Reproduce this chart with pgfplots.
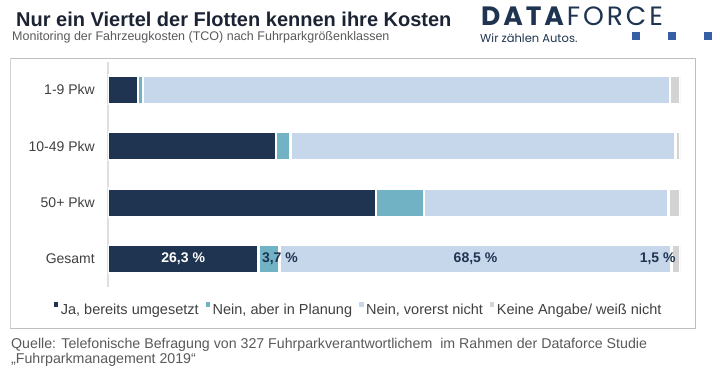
\documentclass[border=0pt]{standalone}
\usepackage{pgfplots}
\pgfplotsset{compat=1.18}
\usepackage{fontspec}
\setmainfont{Liberation Sans}
\newfontfamily\logofont{Poppins}
\definecolor{c1}{RGB}{31,52,81}
\definecolor{c2}{RGB}{114,178,197}
\definecolor{c3}{RGB}{199,215,235}
\definecolor{c4}{RGB}{211,211,211}
\definecolor{titlecol}{RGB}{28,36,52}
\definecolor{txtgray}{RGB}{64,64,64}
\definecolor{subgray}{RGB}{90,90,90}
\definecolor{sqblue}{RGB}{55,95,165}
\begin{document}
\begin{tikzpicture}[x=1pt,y=1pt]
\path[fill=white] (0,0) rectangle (720,383);
% frame
\draw[gray!50, line width=0.9pt] (10,55) rectangle (695,325);
\draw[gray!35, line width=1.6pt] (10.5,55) -- (10.5,325);
% title
\node[anchor=base west, inner sep=0, text=titlecol, font=\fontsize{20}{24}\selectfont\bfseries] at (16,356) {Nur ein Viertel der Flotten kennen ihre Kosten};
\node[anchor=base west, inner sep=0, text=subgray, font=\fontsize{12.5}{15}\selectfont] at (12,342) {Monitoring der Fahrzeugkosten (TCO) nach Fuhrparkgrößenklassen};
% logo
\node[anchor=base west, inner sep=0, text=c1, font=\fontsize{26.5}{30}\logofont\addfontfeature{LetterSpace=11}] at (481,357) {\textbf{DATA}FORCE};
\node[anchor=base west, inner sep=0, text=c1, font=\fontsize{11.5}{14}\logofont] at (480,340) {Wir zählen Autos.};
\fill[sqblue] (632,343) rectangle (640,351);
\fill[sqblue] (668,343) rectangle (676,351);
\fill[sqblue] (704,343) rectangle (712,351);
% source
\node[anchor=base west, inner sep=0, text=subgray, font=\fontsize{14.2}{17}\selectfont] at (11,35) {Quelle: Telefonische Befragung von 327 Fuhrparkverantwortlichem\ \ im Rahmen der Dataforce Studie};
\node[anchor=base west, inner sep=0, text=subgray, font=\fontsize{14.2}{17}\selectfont] at (11,20) {„Fuhrparkmanagement 2019“};
\begin{axis}[
  at={(108pt,95.85pt)}, anchor=south west, scale only axis,
  width=572pt, height=225.6pt,
  xbar stacked, bar width=28.3pt,
  xmin=0, xmax=100, ymin=-0.5, ymax=3.5, y dir=reverse,
  axis x line=none, axis y line*=left,
  axis line style={draw=gray!25, line width=1.3pt, -},
  xtick=\empty,
  ytick={0,1,2,3}, yticklabels={1-9 Pkw,10-49 Pkw,50+ Pkw,Gesamt},
  major tick length=0pt,
  yticklabel style={anchor=base east, inner sep=0pt, xshift=-13pt, yshift=-5pt, text=txtgray, font=\fontsize{14}{16}\selectfont},
  every axis plot/.append style={draw=white, line width=2.3pt},
  legend columns=4,
  legend image code/.code={\fill[#1, draw=none] (0pt,3pt) rectangle (4.5pt,7.5pt);},
  legend style={at={(-0.095,-0.1)}, anchor=west, draw=none, fill=none,
    inner sep=0pt, font=\fontsize{14.5}{17}\selectfont, text=txtgray,
    nodes={inner sep=2.5pt},
    /tikz/every even column/.append style={column sep=4.5pt}},
]
\addplot[fill=c1] coordinates {(5.3,0) (29.4,1) (46.8,2) (26.3,3)};
\addplot[fill=c2] coordinates {(0.8,0) (2.5,1) (8.4,2) (3.7,3)};
\addplot[fill=c3] coordinates {(92.2,0) (67.3,1) (42.8,2) (68.5,3)};
\addplot[fill=c4] coordinates {(1.7,0) (0.8,1) (2.0,2) (1.5,3)};
\legend{{Ja, bereits umgesetzt},{Nein, aber in Planung},{Nein, vorerst nicht},{Keine Angabe/ weiß nicht}}
\coordinate (l1) at (axis cs:13.15,3);
\coordinate (l2) at (axis cs:26.9,3);
\coordinate (l3) at (axis cs:64.25,3);
\coordinate (l4) at (axis cs:96.1,3);
\end{axis}
\node[text=white, font=\fontsize{14}{16}\selectfont\bfseries] at (l1) {26,3 \%};
\node[anchor=west, inner sep=0pt, text=c1, font=\fontsize{14}{16}\selectfont\bfseries] at (l2) {3,7 \%};
\node[text=c1, font=\fontsize{14}{16}\selectfont\bfseries] at (l3) {68,5 \%};
\node[text=c1, font=\fontsize{14}{16}\selectfont\bfseries] at (l4) {1,5 \%};
\end{tikzpicture}
\end{document}
